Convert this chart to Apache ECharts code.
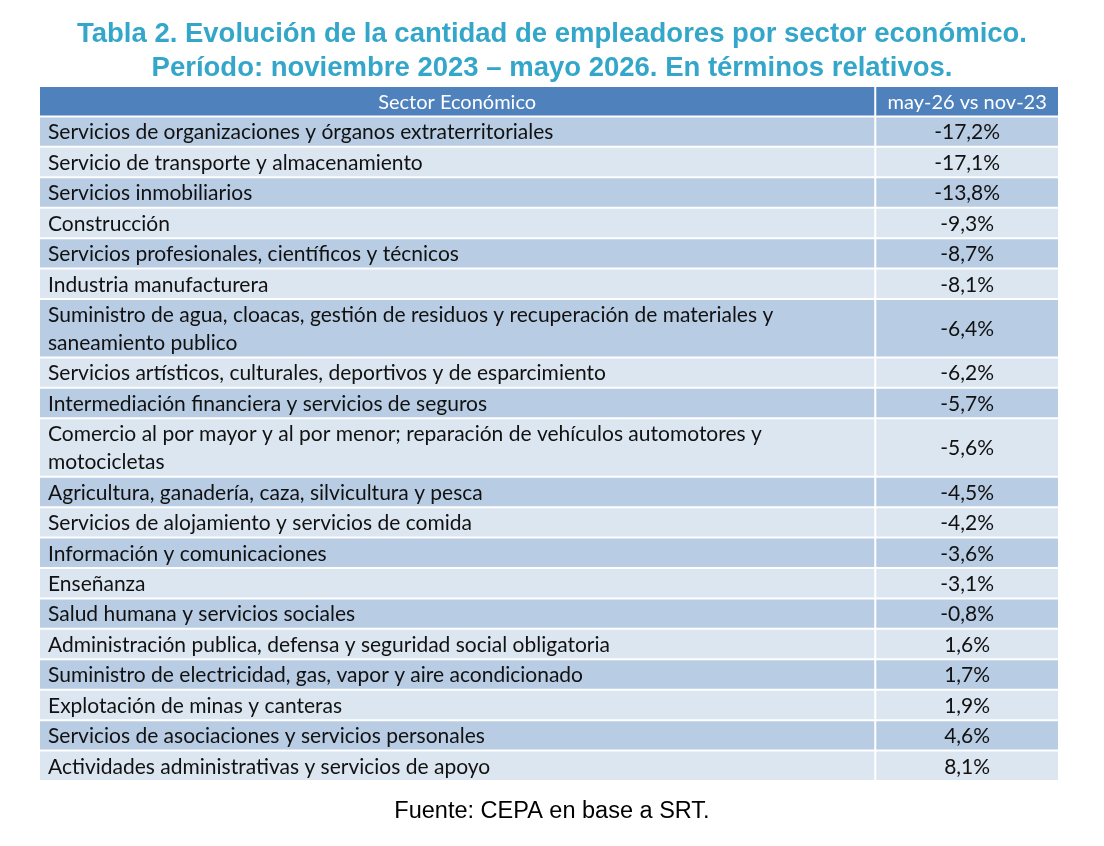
<!DOCTYPE html>
<html><head><meta charset="utf-8">
<script src="https://cdn.jsdelivr.net/npm/echarts@6/dist/echarts.min.js"></script>
<style>html,body{margin:0;padding:0;background:#fff}#c{width:1104px;height:846px}</style>
</head><body><div id="c"></div>
<script>
const titleLines = ["Tabla 2. Evolución de la cantidad de empleadores por sector económico.", "Período: noviembre 2023 – mayo 2026. En términos relativos."];
const headers = ["Sector Económico", "may-26 vs nov-23"];
const sectors = [
  "Servicios de organizaciones y órganos extraterritoriales",
  "Servicio de transporte y almacenamiento",
  "Servicios inmobiliarios",
  "Construcción",
  "Servicios profesionales, científicos y técnicos",
  "Industria manufacturera",
  "Suministro de agua, cloacas, gestión de residuos y recuperación de materiales y\nsaneamiento publico",
  "Servicios artísticos, culturales, deportivos y de esparcimiento",
  "Intermediación financiera y servicios de seguros",
  "Comercio al por mayor y al por menor; reparación de vehículos automotores y\nmotocicletas",
  "Agricultura, ganadería, caza, silvicultura y pesca",
  "Servicios de alojamiento y servicios de comida",
  "Información y comunicaciones",
  "Enseñanza",
  "Salud humana y servicios sociales",
  "Administración publica, defensa y seguridad social obligatoria",
  "Suministro de electricidad, gas, vapor y aire acondicionado",
  "Explotación de minas y canteras",
  "Servicios de asociaciones y servicios personales",
  "Actividades administrativas y servicios de apoyo"
];
const changes = [-17.2, -17.1, -13.8, -9.3, -8.7, -8.1, -6.4, -6.2, -5.7, -5.6, -4.5, -4.2, -3.6, -3.1, -0.8, 1.6, 1.7, 1.9, 4.6, 8.1];
const source = "Fuente: CEPA en base a SRT.";

const fmt = v => v.toFixed(1).replace('.', ',') + '%';
const EXTRA_LINE = 0.92;
const SPLIT = 0.8195;
const GAP = 2;

// build cells: [start, end, col, rowIndex] (rowIndex -1 = header)
const cells = [];
cells.push([0, 1, 0, -1], [0, 1, 1, -1]);
let pos = 1;
sectors.forEach((s, i) => {
  const lines = s.split('\n').length;
  const h = 1 + (lines - 1) * EXTRA_LINE;
  cells.push([pos, pos + h, 0, i], [pos, pos + h, 1, i]);
  pos += h;
});
const total = pos;

const chart = echarts.init(document.getElementById('c'));
const FONT = 'Lato';
chart.setOption({
  backgroundColor: '#fff',
  animation: false,
  title: [
    { text: titleLines.join('\n'), left: 'center', top: 12,
      textStyle: { fontFamily: 'Liberation Sans', fontWeight: 'bold', fontSize: 27.5, color: '#33A6C9', lineHeight: 34, align: 'center' } },
    { text: source, left: 'center', top: 795,
      textStyle: { fontFamily: 'Liberation Sans', fontWeight: 'normal', fontSize: 23.5, color: '#000' } }
  ],
  grid: { left: 40, right: 46, top: 87, bottom: 64 },
  xAxis: { type: 'value', min: 0, max: 1, show: false },
  yAxis: { type: 'value', min: 0, max: total, inverse: true, show: false },
  series: [{
    type: 'custom',
    coordinateSystem: 'cartesian2d',
    data: cells,
    renderItem: function (params, api) {
      const cs = params.coordSys;
      const start = api.value(0), end = api.value(1), col = api.value(2), row = api.value(3);
      const y0 = api.coord([0, start])[1];
      const y1 = api.coord([0, end])[1];
      const splitX = cs.x + cs.width * SPLIT;
      const x0 = col === 0 ? cs.x : splitX + GAP;
      const x1 = col === 0 ? splitX : cs.x + cs.width;
      const h = y1 - y0 - GAP;
      let fill, text, color, size;
      if (row < 0) { fill = '#4F81BD'; text = headers[col]; color = '#fff'; size = 20; }
      else {
        fill = row % 2 === 0 ? '#B8CCE4' : '#DCE6F1';
        text = col === 0 ? sectors[row] : fmt(changes[row]);
        color = '#111';
        size = 21;
      }
      const centered = row < 0 || col === 1;
      return {
        type: 'group',
        children: [
          { type: 'rect', shape: { x: x0, y: y0, width: x1 - x0, height: h }, style: { fill: fill } },
          { type: 'text', x: centered ? (x0 + x1) / 2 : x0 + 8, y: y0 + h / 2 + 1,
            style: { text: text, fill: color, font: size + 'px ' + FONT, lineHeight: 28,
              align: centered ? 'center' : 'left', verticalAlign: 'middle' } }
        ]
      };
    }
  }]
});
</script></body></html>
